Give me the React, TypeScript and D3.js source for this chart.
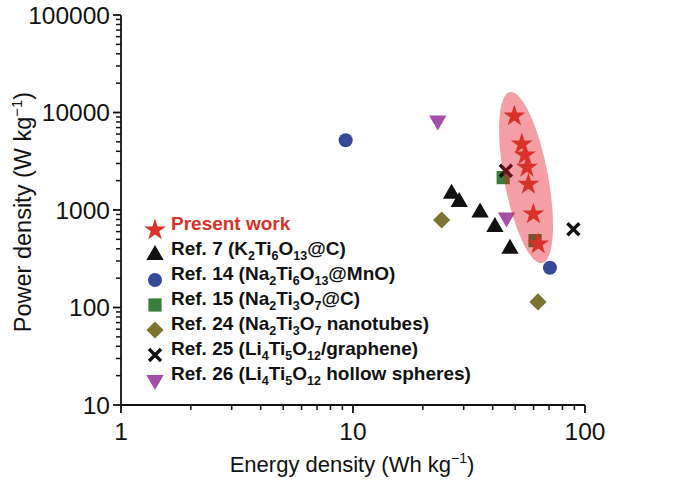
import React from "react";
import * as d3 from "d3";

// Present work
const presentE = [49.6, 53.4, 55.1, 56.2, 57.0, 59.9, 62.9];
const presentP = [9200, 4750, 3660, 2740, 1835, 910, 448];
// Ref. 7 (K2Ti6O13@C)
const ref7E = [26.6, 28.7, 35.3, 40.9, 47.5];
const ref7P = [1470, 1210, 940, 670, 400];
// Ref. 14 (Na2Ti6O13@MnO)
const ref14E = [9.3, 70.6];
const ref14P = [5200, 256];
// Ref. 15 (Na2Ti3O7@C)
const ref15E = [44.4, 60.9];
const ref15P = [2150, 485];
// Ref. 24 (Na2Ti3O7 nanotubes)
const ref24E = [24.1, 62.7];
const ref24P = [790, 114];
// Ref. 25 (Li4Ti5O12/graphene)
const ref25E = [45.6, 89.1];
const ref25P = [2530, 635];
// Ref. 26 (Li4Ti5O12 hollow spheres)
const ref26E = [23.2, 45.9];
const ref26P = [8300, 840];

const xTicks = [1, 10, 100];
const yTicks = [10, 100, 1000, 10000, 100000];

// highlight ellipse around present work (centre in data units)
const ellipseCenter = [55.7, 2150];

const FONT = "'Liberation Sans', Arial, Helvetica, sans-serif";

const W = 685;
const H = 482;
const x = d3.scaleLog().domain([1, 100]).range([121, 585]);
const y = d3.scaleLog().domain([10, 100000]).range([405, 15]);

type Part = { t: string; sub?: boolean };

const series = [
  { key: "ref7", e: ref7E, p: ref7P, shape: "tri", color: "#111111" },
  { key: "ref14", e: ref14E, p: ref14P, shape: "circle", color: "#35499b" },
  { key: "ref15", e: ref15E, p: ref15P, shape: "square", color: "#3b7d3b" },
  { key: "ref24", e: ref24E, p: ref24P, shape: "diamond", color: "#7b7530" },
  { key: "ref25", e: ref25E, p: ref25P, shape: "cross", color: "#111111" },
  { key: "ref26", e: ref26E, p: ref26P, shape: "down", color: "#a54fa8" },
];

const legendItems: { shape: string; color: string; text: Part[]; red?: boolean }[] = [
  { shape: "star", color: "#da3228", text: [{ t: "Present work" }], red: true },
  {
    shape: "tri",
    color: "#111111",
    text: [{ t: "Ref. 7 (K" }, { t: "2", sub: true }, { t: "Ti" }, { t: "6", sub: true }, { t: "O" }, { t: "13", sub: true }, { t: "@C)" }],
  },
  {
    shape: "circle",
    color: "#35499b",
    text: [{ t: "Ref. 14 (Na" }, { t: "2", sub: true }, { t: "Ti" }, { t: "6", sub: true }, { t: "O" }, { t: "13", sub: true }, { t: "@MnO)" }],
  },
  {
    shape: "square",
    color: "#3b7d3b",
    text: [{ t: "Ref. 15 (Na" }, { t: "2", sub: true }, { t: "Ti" }, { t: "3", sub: true }, { t: "O" }, { t: "7", sub: true }, { t: "@C)" }],
  },
  {
    shape: "diamond",
    color: "#7b7530",
    text: [{ t: "Ref. 24 (Na" }, { t: "2", sub: true }, { t: "Ti" }, { t: "3", sub: true }, { t: "O" }, { t: "7", sub: true }, { t: " nanotubes)" }],
  },
  {
    shape: "cross",
    color: "#111111",
    text: [{ t: "Ref. 25 (Li" }, { t: "4", sub: true }, { t: "Ti" }, { t: "5", sub: true }, { t: "O" }, { t: "12", sub: true }, { t: "/graphene)" }],
  },
  {
    shape: "down",
    color: "#a54fa8",
    text: [{ t: "Ref. 26 (Li" }, { t: "4", sub: true }, { t: "Ti" }, { t: "5", sub: true }, { t: "O" }, { t: "12", sub: true }, { t: " hollow spheres)" }],
  },
];

const triPath = d3.symbol(d3.symbolTriangle, 130)()!;
const circlePath = d3.symbol(d3.symbolCircle, 155)()!;
const squarePath = d3.symbol(d3.symbolSquare, 175)()!;
const starPath = d3.symbol(d3.symbolStar, 150)()!;

function Marker({ shape, color, cx, cy }: { shape: string; color: string; cx: number; cy: number }) {
  const tr = `translate(${cx},${cy})`;
  switch (shape) {
    case "tri":
      return <path d={triPath} transform={tr} fill={color} />;
    case "down":
      return <path d={triPath} transform={`${tr} rotate(180)`} fill={color} />;
    case "circle":
      return <path d={circlePath} transform={tr} fill={color} />;
    case "square":
      return <path d={squarePath} transform={tr} fill={color} />;
    case "diamond":
      return <path d={squarePath} transform={`${tr} rotate(45) scale(0.92)`} fill={color} />;
    case "star":
      return <path d={starPath} transform={tr} fill={color} />;
    case "cross":
      return (
        <path
          d="M-6,-6L6,6M-6,6L6,-6"
          transform={tr}
          stroke={color}
          strokeWidth={3.4}
          fill="none"
        />
      );
    default:
      return null;
  }
}

export default function App() {
  const minorX: number[] = [];
  for (let d = 1; d < 100; d *= 10) for (let k = 2; k <= 9; k++) minorX.push(d * k);
  const minorY: number[] = [];
  for (let d = 10; d < 100000; d *= 10) for (let k = 2; k <= 9; k++) minorY.push(d * k);

  const [x0, x1] = x.range();
  const [y0, y1] = y.range();

  return (
    <svg
      width={W}
      height={H}
      style={{ position: "absolute", left: 0, top: 0, background: "#fff" }}
      fontFamily={FONT}
    >
      {/* other references */}
      {series.map((s) =>
        s.e.map((e, i) => (
          <Marker key={`${s.key}-${i}`} shape={s.shape} color={s.color} cx={x(e)} cy={y(s.p[i])} />
        ))
      )}

      {/* highlight ellipse */}
      <ellipse
        cx={0}
        cy={0}
        rx={22}
        ry={87}
        transform={`translate(${x(ellipseCenter[0])},${y(ellipseCenter[1])}) rotate(-10.7)`}
        fill="#e3101e"
        fillOpacity={0.4}
      />

      {/* present work */}
      {presentE.map((e, i) => (
        <Marker key={`pw-${i}`} shape="star" color="#da3228" cx={x(e)} cy={y(presentP[i])} />
      ))}

      {/* axes */}
      <g stroke="#111" strokeWidth={1.8} fill="none">
        <line x1={x0} x2={x1} y1={y0} y2={y0} />
        <line x1={x0} x2={x0} y1={y0} y2={y1} />
        {xTicks.map((t) => (
          <line key={`xt${t}`} x1={x(t)} x2={x(t)} y1={y0} y2={y0 + 8} />
        ))}
        {minorX.map((t) => (
          <line key={`xm${t}`} x1={x(t)} x2={x(t)} y1={y0} y2={y0 + 5} strokeWidth={1.5} />
        ))}
        {yTicks.map((t) => (
          <line key={`yt${t}`} x1={x0 - 8} x2={x0} y1={y(t)} y2={y(t)} />
        ))}
        {minorY.map((t) => (
          <line key={`ym${t}`} x1={x0 - 5} x2={x0} y1={y(t)} y2={y(t)} strokeWidth={1.5} />
        ))}
      </g>

      {/* tick labels */}
      <g fontSize={24.5} fill="#111">
        {xTicks.map((t) => (
          <text key={`xl${t}`} x={x(t)} y={y0 + 35} textAnchor="middle">
            {t}
          </text>
        ))}
        {yTicks.map((t) => (
          <text key={`yl${t}`} x={x0 - 11} y={y(t)} dy="0.35em" textAnchor="end">
            {t}
          </text>
        ))}
      </g>

      {/* axis titles */}
      <text x={352} y={472} textAnchor="middle" fontSize={22} fill="#111">
        Energy density (Wh kg
        <tspan fontSize={14} dy={-9}>
          −1
        </tspan>
        <tspan dy={9}>)</tspan>
      </text>
      <text
        transform={`translate(31,212) rotate(-90)`}
        textAnchor="middle"
        fontSize={23.5}
        fill="#111"
      >
        Power density (W kg
        <tspan fontSize={15} dy={-9.5}>
          −1
        </tspan>
        <tspan dy={9.5}>)</tspan>
      </text>

      {/* legend */}
      <g>
        {legendItems.map((it, i) => {
          const ly = 230 + i * 25;
          return (
            <g key={`lg${i}`}>
              <Marker shape={it.shape} color={it.color} cx={155} cy={ly} />
              <text
                x={171}
                y={ly}
                dy="0.36em"
                fontSize={19}
                fontWeight="bold"
                fill={it.red ? "#da3228" : "#111"}
              >
                {it.text.map((p, j) =>
                  p.sub ? (
                    <tspan key={j} fontSize={12.5} dy={5}>
                      {p.t}
                    </tspan>
                  ) : (
                    <tspan key={j} dy={j > 0 && it.text[j - 1].sub ? -5 : 0}>
                      {p.t}
                    </tspan>
                  )
                )}
              </text>
            </g>
          );
        })}
      </g>
    </svg>
  );
}
